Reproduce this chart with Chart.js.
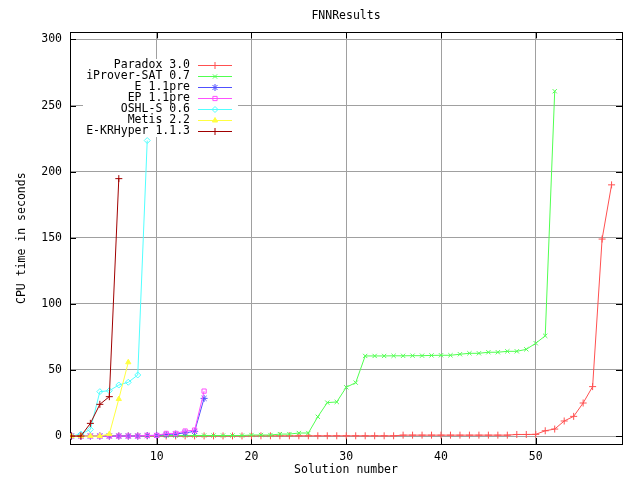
<!DOCTYPE html>
<html>
<head>
<meta charset="utf-8">
<title>FNNResults</title>
<script src="https://cdn.jsdelivr.net/npm/chart.js@4.4.0/dist/chart.umd.min.js"></script>
<style>
  html, body { margin: 0; padding: 0; background: #fff; }
  #chart { display: block; }
</style>
</head>
<body>
<canvas id="chart" width="640" height="480"></canvas>
<script>
// solution number = position in the array + 1
const seriesNames = ['Paradox 3.0', 'iProver-SAT 0.7', 'E 1.1pre', 'EP 1.1pre', 'OSHL-S 0.6', 'Metis 2.2', 'E-KRHyper 1.1.3'];

const paradoxTimes = [
    0.1, 0.1, 0.1, 0.1, 0.1, 0.1, 0.1, 0.1, 0.1, 0.1,
    0.1, 0.1, 0.1, 0.1, 0.1, 0.1, 0.1, 0.1, 0.1, 0.1,
    0.2, 0.2, 0.2, 0.2, 0.2, 0.2, 0.2, 0.2, 0.2, 0.2,
    0.2, 0.2, 0.2, 0.2, 0.2, 0.7, 0.7, 0.7, 0.7, 0.7,
    0.7, 0.7, 0.7, 0.7, 0.7, 0.7, 0.7, 1.2, 1.2, 1.3,
    4.0, 5.3, 11.4, 14.9, 25.0, 37.4, 149.0, 190.0
];
const iproverTimes = [
    0.2, 0.2, 0.2, 0.2, 0.2, 0.2, 0.2, 0.2, 0.2, 0.4,
    0.4, 0.4, 0.4, 0.4, 0.4, 0.4, 0.4, 0.4, 0.4, 0.8,
    0.8, 0.8, 1.5, 1.5, 2.3, 2.3, 14.6, 25.3, 25.8, 36.9,
    40.4, 60.6, 60.6, 60.6, 60.7, 60.7, 60.8, 60.8, 61.0, 61.1,
    61.1, 61.9, 62.6, 62.6, 63.4, 63.4, 64.1, 64.1, 65.6, 70.2,
    75.8, 260.8
];
const eTimes = [0, 0, 0, 0, 0, 0, 0, 0, 0.4, 0.5, 1.2, 1.5, 2.5, 3.5, 28.5];
const epTimes = [0, 0, 0, 0, 0, 0, 0, 0, 0.5, 0.5, 2.0, 2.0, 3.8, 4.5, 34.0];
const oshlTimes = [0, 1.5, 5.0, 33.6, 34.3, 38.6, 40.7, 46.2, 223.5];
const metisTimes = [0, 0, 0, 0, 1.5, 28.0, 55.8];
const krhyperTimes = [0, 0, 9.6, 24.0, 29.8, 194.7];

const xTicks = [10, 20, 30, 40, 50];
const yTicks = [0, 50, 100, 150, 200, 250, 300];

const allTimes = [paradoxTimes, iproverTimes, eTimes, epTimes, oshlTimes, metisTimes, krhyperTimes];

// gnuplot-ish line/point styles
const lineColors = ['#ff5050', '#50ff50', '#5050ff', '#ff50ff', '#50ffff', '#ffff40', '#a00000'];
const pointStyles = ['cross', 'crossRot', 'star', 'rect', 'rectRot', 'triangle', 'cross'];
const pointFills = ['#ff5050', '#50ff50', '#5050ff', 'rgba(0,0,0,0)', 'rgba(0,0,0,0)', '#ffff40', '#a00000'];
const pointSizes = [3.5, 3, 3.5, 3, 3, 3, 3.5];

const FONT_FAMILY = '"DejaVu Sans Mono", "Liberation Mono", monospace';
const FONT_SIZE = 11.5;
const font = { family: FONT_FAMILY, size: FONT_SIZE, weight: 'normal' };

const toPoints = times => times.map((t, i) => ({ x: i + 1, y: t }));

const datasets = allTimes.map((times, i) => ({
    label: seriesNames[i],
    data: toPoints(times),
    borderColor: lineColors[i],
    backgroundColor: lineColors[i],
    pointBackgroundColor: pointFills[i],
    pointBorderColor: lineColors[i],
    pointStyle: pointStyles[i],
    pointRadius: pointSizes[i],
    pointBorderWidth: 1,
    borderWidth: 1,
    tension: 0,
    order: -i,
}));

// border box + inward tick marks like gnuplot
const framePlugin = {
    id: 'frame',
    beforeDatasetsDraw(chart) {
        const { ctx, chartArea: a, scales } = chart;
        const len = 6;
        ctx.save();
        ctx.strokeStyle = '#000';
        ctx.lineWidth = 1;
        ctx.beginPath();
        yTicks.forEach(v => {
            const y = Math.round(scales.y.getPixelForValue(v)) + 0.5;
            ctx.moveTo(a.left, y); ctx.lineTo(a.left + len, y);
            ctx.moveTo(a.right, y); ctx.lineTo(a.right - len, y);
        });
        xTicks.forEach(v => {
            const x = Math.round(scales.x.getPixelForValue(v)) + 0.5;
            ctx.moveTo(x, a.bottom); ctx.lineTo(x, a.bottom - len);
            ctx.moveTo(x, a.top); ctx.lineTo(x, a.top + len);
        });
        ctx.stroke();
        ctx.strokeRect(Math.round(a.left) + 0.5, Math.round(a.top) + 0.5,
            Math.round(a.right - a.left), Math.round(a.bottom - a.top));
        ctx.restore();
    }
};

// key in the upper left, text right-aligned before the sample
const keyPlugin = {
    id: 'gnuplotKey',
    afterDatasetsDraw(chart) {
        const ctx = chart.ctx;
        ctx.save();
        ctx.fillStyle = '#fff';
        ctx.fillRect(83, 59, 155, 78);
        ctx.font = `${FONT_SIZE}px ${FONT_FAMILY}`;
        ctx.textAlign = 'right';
        ctx.textBaseline = 'middle';
        chart.data.datasets.forEach((ds, i) => {
            const y = 65.5 + i * 11;
            ctx.fillStyle = '#000';
            ctx.fillText(ds.label, 190, y);
            ctx.strokeStyle = ds.borderColor;
            ctx.lineWidth = 1;
            ctx.beginPath();
            ctx.moveTo(198, y);
            ctx.lineTo(232, y);
            ctx.stroke();
            ctx.fillStyle = ds.pointBackgroundColor;
            ctx.strokeStyle = ds.pointBorderColor;
            Chart.helpers.drawPoint(ctx, {
                pointStyle: ds.pointStyle,
                radius: ds.pointRadius,
                borderWidth: 1,
                rotation: 0
            }, 215, y);
        });
        ctx.restore();
    }
};

new Chart(document.getElementById('chart').getContext('2d'), {
    type: 'line',
    data: { datasets },
    options: {
        responsive: false,
        animation: false,
        events: [],
        layout: { padding: { left: 0, right: 18, top: 0, bottom: 0 } },
        scales: {
            x: {
                type: 'linear',
                min: 0.85,
                max: 59.1,
                afterBuildTicks: s => { s.ticks = xTicks.map(v => ({ value: v })); },
                afterFit: s => { s.height = 36; },
                grid: { color: '#a0a0a0', drawTicks: false },
                border: { display: false },
                ticks: { color: '#000', font, padding: 6, maxRotation: 0, autoSkip: false },
                title: { display: true, text: 'Solution number', color: '#000', font, padding: { top: 0, bottom: 3 } }
            },
            y: {
                type: 'linear',
                min: -6,
                max: 305.3,
                afterBuildTicks: s => { s.ticks = yTicks.map(v => ({ value: v })); },
                afterFit: s => { s.width = 70; },
                grid: { color: '#a0a0a0', drawTicks: false },
                border: { display: false },
                ticks: { color: '#000', font, padding: 8, autoSkip: false },
                title: { display: true, text: 'CPU time in seconds', color: '#000', font, padding: { top: 15, bottom: 0 } }
            }
        },
        plugins: {
            legend: { display: false },
            tooltip: { enabled: false },
            title: {
                display: true,
                text: 'FNNResults',
                color: '#000',
                font,
                fullSize: false,
                padding: { top: 9, bottom: 9.6 }
            }
        }
    },
    plugins: [framePlugin, keyPlugin]
});
</script>
</body>
</html>
